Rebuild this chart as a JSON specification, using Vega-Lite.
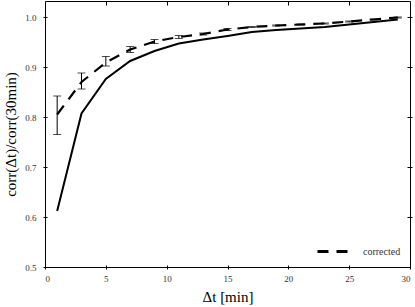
{
  "$schema": "https://vega.github.io/schema/vega-lite/v6.json",
  "width": 365,
  "height": 266,
  "autosize": {"type": "none"},
  "padding": {"left": 45, "top": 1, "right": 5, "bottom": 40},
  "background": "white",
  "config": {
    "view": {"stroke": "black", "strokeWidth": 1},
    "font": "Liberation Serif",
    "axis": {"grid": false, "domain": false, "tickColor": "black", "tickSize": 4, "tickWidth": 1, "labelFont": "Liberation Serif", "labelFontSize": 9, "labelColor": "#333", "titleFont": "Liberation Serif", "titleFontWeight": "normal", "titleFontSize": 15, "titleColor": "#000000"}
  },
  "data": {"values": [
    {"x": 1, "raw": 0.612, "corr": 0.805, "lo": 0.765, "hi": 0.842},
    {"x": 3, "raw": 0.807, "corr": 0.870, "lo": 0.856, "hi": 0.888},
    {"x": 5, "raw": 0.876, "corr": 0.909, "lo": 0.902, "hi": 0.921},
    {"x": 7, "raw": 0.912, "corr": 0.935, "lo": 0.929, "hi": 0.941},
    {"x": 9, "raw": 0.932, "corr": 0.951, "lo": 0.947, "hi": 0.955},
    {"x": 11, "raw": 0.947, "corr": 0.960, "lo": 0.957, "hi": 0.963},
    {"x": 13, "raw": 0.955, "corr": 0.966, "lo": 0.964, "hi": 0.968},
    {"x": 15, "raw": 0.962, "corr": 0.975, "lo": 0.973, "hi": 0.977},
    {"x": 17, "raw": 0.970, "corr": 0.980, "lo": 0.979, "hi": 0.981},
    {"x": 19, "raw": 0.974, "corr": 0.983, "lo": 0.982, "hi": 0.984},
    {"x": 21, "raw": 0.977, "corr": 0.985, "lo": 0.984, "hi": 0.986},
    {"x": 23, "raw": 0.980, "corr": 0.987, "lo": 0.986, "hi": 0.988},
    {"x": 25, "raw": 0.985, "corr": 0.991, "lo": 0.990, "hi": 0.992},
    {"x": 27, "raw": 0.990, "corr": 0.995, "lo": 0.994, "hi": 0.996},
    {"x": 29, "raw": 0.995, "corr": 0.999, "lo": 0.998, "hi": 1.000}
  ]},
  "resolve": {"axis": {"x": "independent", "y": "independent"}},
  "layer": [
    {
      "mark": {"type": "line", "color": "black", "strokeWidth": 2},
      "encoding": {
        "x": {"field": "x", "type": "quantitative", "scale": {"domain": [0, 30], "nice": false}, "axis": {"orient": "bottom", "offset": -2, "values": [0, 5, 10, 15, 20, 25, 30], "title": "Δt [min]", "titleColor": "#000000", "titlePadding": 6, "labelPadding": 5}},
        "y": {"field": "raw", "type": "quantitative", "scale": {"domain": [0.5, 1.032], "nice": false, "zero": false}, "axis": {"orient": "left", "offset": -2, "values": [0.5, 0.6, 0.7, 0.8, 0.9, 1.0], "format": ".1f", "title": "corr(Δt)/corr(30min)", "titleColor": "#000000", "titlePadding": 6, "labelPadding": 7}}
      }
    },
    {
      "mark": {"type": "line", "color": "black", "strokeWidth": 2.2, "strokeDash": [12, 7]},
      "encoding": {
        "x": {"field": "x", "type": "quantitative", "axis": {"orient": "top", "offset": -4, "tickSize": 4, "values": [5, 10, 15, 20, 25], "labels": false, "title": null}},
        "y": {"field": "corr", "type": "quantitative", "axis": {"orient": "right", "offset": -3, "tickSize": 5, "values": [0.6, 0.7, 0.8, 0.9, 1.0], "labels": false, "title": null}},
        "strokeDash": {"datum": "corrected", "type": "nominal", "scale": {"range": [[11, 8]]}, "legend": {"orient": "bottom-right", "title": null, "symbolType": "stroke", "symbolStrokeWidth": 3, "symbolSize": 1156, "symbolStrokeColor": "black", "labelFont": "Liberation Serif", "labelFontSize": 10, "labelColor": "#333", "labelOffset": 10, "offset": 9}}
      }
    },
    {
      "mark": {"type": "rule", "color": "black", "strokeWidth": 1},
      "encoding": {
        "x": {"field": "x", "type": "quantitative", "axis": null},
        "y": {"field": "lo", "type": "quantitative", "axis": null},
        "y2": {"field": "hi"}
      }
    },
    {
      "mark": {"type": "tick", "color": "black", "orient": "horizontal", "size": 8, "thickness": 1},
      "encoding": {
        "x": {"field": "x", "type": "quantitative", "axis": null},
        "y": {"field": "lo", "type": "quantitative", "axis": null}
      }
    },
    {
      "mark": {"type": "tick", "color": "black", "orient": "horizontal", "size": 8, "thickness": 1},
      "encoding": {
        "x": {"field": "x", "type": "quantitative", "axis": null},
        "y": {"field": "hi", "type": "quantitative", "axis": null}
      }
    }
  ]
}
